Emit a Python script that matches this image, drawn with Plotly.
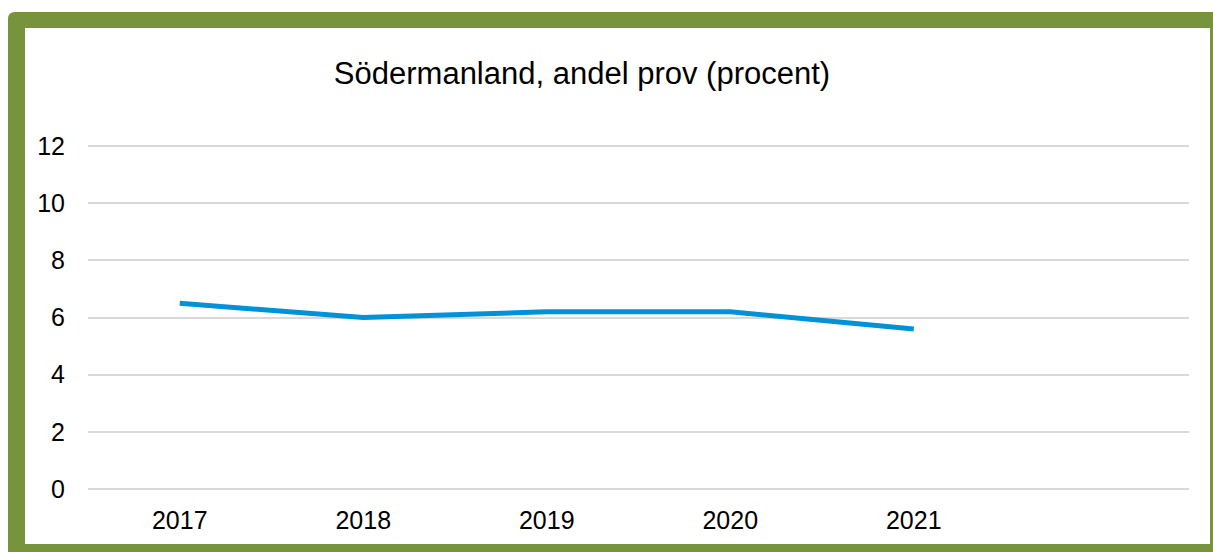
import plotly.graph_objects as go

years = ["2017", "2018", "2019", "2020", "2021"]
values = [6.5, 6.0, 6.2, 6.2, 5.6]
y_ticks = [0, 2, 4, 6, 8, 10, 12]
title_text = "Södermanland, andel prov (procent)"

W, H = 1213, 552
L, R, T, B = 88, 24, 143, 60
PW, PH = W - L - R, H - T - B
Y_MIN, Y_MAX = -0.1, 12.1


def px(x):
    return (x - L) / PW


def py(y):
    return (H - B - y) / PH


green = "#77933C"

fig = go.Figure()
fig.add_trace(go.Scatter(
    x=years, y=values, mode="lines",
    line=dict(color="rgb(0,146,214)", width=5),
    hoverinfo="skip",
))

# frame: green outer with rounded top-left corner, white inner
r = 7
x0, y0, x1, y1 = 8, 12, 1225, 565
path = (f"M {px(x0)},{py(y1)} L {px(x0)},{py(y0 + r)} "
        f"Q {px(x0)},{py(y0)} {px(x0 + r)},{py(y0)} "
        f"L {px(x1)},{py(y0)} L {px(x1)},{py(y1)} Z")
shapes = [
    dict(type="path", xref="paper", yref="paper", path=path,
         fillcolor=green, line=dict(width=0), layer="below"),
    dict(type="rect", xref="paper", yref="paper",
         x0=px(25), x1=px(1210), y0=py(28), y1=py(544),
         fillcolor="white", line=dict(width=0), layer="below"),
]

fig.update_layout(
    width=W, height=H,
    margin=dict(l=L, r=R, t=T, b=B),
    paper_bgcolor="white",
    plot_bgcolor="rgba(0,0,0,0)",
    showlegend=False,
    shapes=shapes,
    font=dict(family="Liberation Sans, Arial, sans-serif", color="black"),
    title=dict(text=title_text, font=dict(size=31, color="black"),
               xref="paper", x=px(582), xanchor="center",
               yref="container", y=1 - 73 / H, yanchor="middle"),
    xaxis=dict(type="category", categoryorder="array", categoryarray=years,
               range=[-0.5, 5.5], showgrid=False, zeroline=False,
               showline=False, ticks="", tickfont=dict(size=25),
               ticklabelstandoff=11),
    yaxis=dict(range=[Y_MIN, Y_MAX], tickvals=y_ticks, showgrid=True,
               gridcolor="#D9D9D9", gridwidth=1.5, zeroline=False,
               showline=False, ticks="", tickfont=dict(size=25),
               ticklabelstandoff=22),
)

fig.write_html("out.html", config={"displayModeBar": False},
               post_script="document.body.style.margin='0';")
